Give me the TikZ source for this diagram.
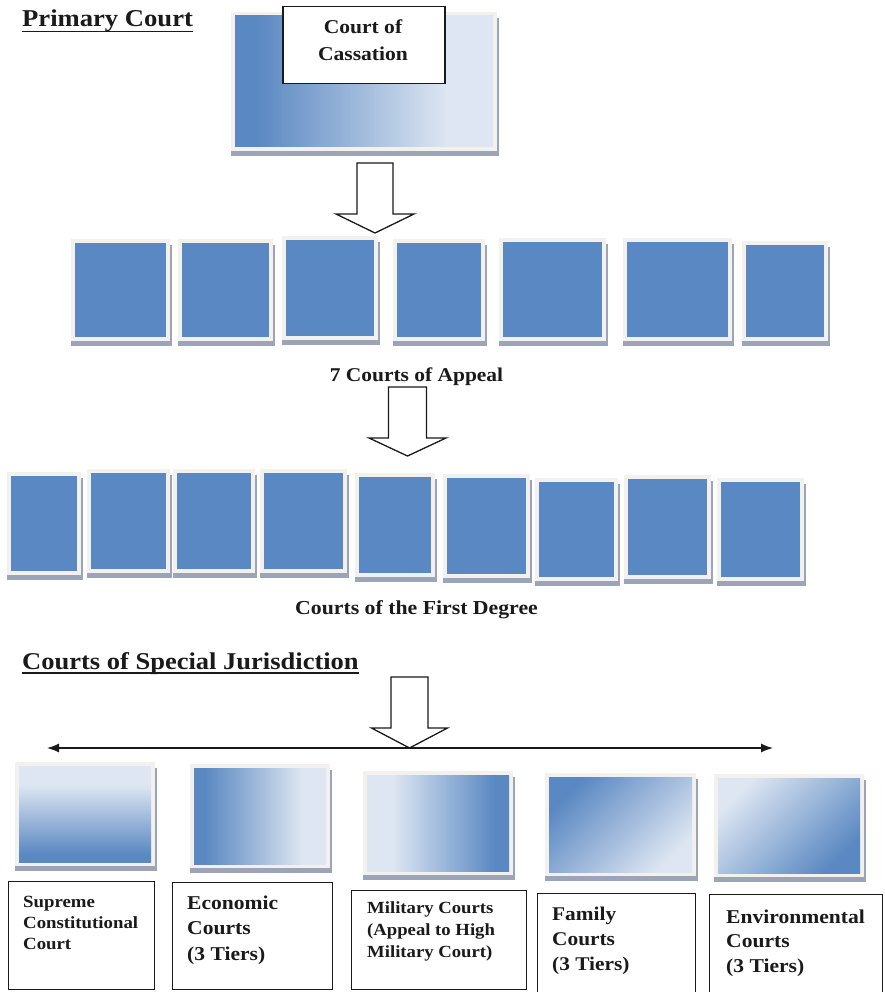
\documentclass[tikz,border=0pt]{standalone}
\usepackage{fontspec}
\setmainfont{Liberation Serif}[FakeStretch=1.1]
\usetikzlibrary{arrows.meta}
\definecolor{bdark}{HTML}{5A88C2}
\definecolor{blight}{HTML}{DDE6F2}
\definecolor{framec}{HTML}{F3F1ED}
\definecolor{shadowc}{HTML}{9CA5B8}
\definecolor{inkc}{HTML}{1A1A1A}
\pgfdeclarehorizontalshading{shLR}{100bp}{color(0bp)=(bdark); color(29bp)=(bdark); color(48bp)=(bdark!50!blight); color(66bp)=(blight); color(100bp)=(blight)}
\pgfdeclarehorizontalshading{shRL}{100bp}{color(0bp)=(blight); color(34bp)=(blight); color(70bp)=(bdark); color(100bp)=(bdark)}
\pgfdeclareverticalshading{shTB}{100bp}{color(0bp)=(bdark); color(29bp)=(bdark); color(65bp)=(blight); color(100bp)=(blight)}
\newcommand\pframe[4]{%
  \fill[shadowc] ({#1-4},{#2+2}) rectangle ({#3+6},{#4+9});
  \fill[framec] ({#1-4},{#2-4}) rectangle ({#3+4},{#4+4});}
\newcommand\blockarrow[6]{% cx, top, neck, tip, halfshaft, halfhead
  \draw[barrow] ({#1-#5},#2) -- ({#1+#5},#2) -- ({#1+#5},#3) -- ({#1+#6},#3) -- (#1,#4) -- ({#1-#6},#3) -- ({#1-#5},#3) -- cycle;}
\begin{document}
\begin{tikzpicture}[x=1pt,y=-1pt,
  txt/.style={font=\bfseries, inner sep=0pt, text=inkc},
  lblbox/.style={draw=inkc, line width=1.4pt, fill=white, inner sep=0pt, anchor=north west},
  barrow/.style={draw=inkc, line width=1.3pt, fill=white, line join=miter},
  hline/.style={draw=inkc, line width=1.3pt, {Latex[length=12pt,width=9pt]}-{Latex[length=12pt,width=9pt]}}]
\fill[white] (0,0) rectangle (884,992);
\useasboundingbox (0,0) rectangle (884,992);

% ---------- Primary Court ----------
\node[txt, anchor=base west] (pc) at (22,27) {\fontsize{24.2}{28}\selectfont Primary Court};
\draw[inkc, line width=1.5pt] ([yshift=-4.5pt]pc.base west) -- ([yshift=-4.5pt]pc.base east);

% Court of Cassation
\pframe{235}{16}{493}{147}
\shade[shading=shLR] (235,16) rectangle (493,147);
\node[lblbox, line width=1.5pt, minimum width=162pt, minimum height=77pt] (cassbox) at (282,6) {};
\node[txt, anchor=base] (cass) at (363,34) {\fontsize{19.6}{27}\selectfont\begin{tabular}[t]{@{}c@{}}Court of\\Cassation\end{tabular}};

\blockarrow{375}{163}{214}{233}{18}{39}

% 7 courts of appeal
\foreach \a/\b/\c/\d in {75/243/166/337, 182/243/269/337, 286/240/374/336, 397/243/481/337, 503/242/602/337, 627/242/728/337, 746/245/824/337}{
  \pframe{\a}{\b}{\c}{\d}
  \fill[bdark] (\a,\b) rectangle (\c,\d);
}
\node[txt, anchor=base] (appeal) at (416.5,381) {\fontsize{19.5}{23}\selectfont 7 Courts of Appeal};

\blockarrow{407.5}{387}{438}{456}{19}{38.5}

% courts of the first degree
\foreach \a/\b/\c/\d in {11/476/77/571, 91/473/166/569, 177/473/251/569, 264/473/343/569, 359/477/431/573, 447/478/526/574, 539/482/614/577, 628/479/707/575, 721/482/800/577}{
  \pframe{\a}{\b}{\c}{\d}
  \fill[bdark] (\a,\b) rectangle (\c,\d);
}
\node[txt, anchor=base] (first) at (416.5,614) {\fontsize{19.8}{23}\selectfont Courts of the First Degree};

% ---------- Special jurisdiction ----------
\node[txt, anchor=base west] (sj) at (22,669) {\fontsize{24.1}{28}\selectfont Courts of Special Jurisdiction};
\draw[inkc, line width=1.5pt] ([yshift=-4pt]sj.base west) -- ([yshift=-4pt]sj.base east);

\blockarrow{409.5}{677}{728}{748}{18.5}{38}
\coordinate (hl) at (47,748);
\coordinate (hr) at (773,748);
\draw[hline] (hl) -- (hr);

% gradient boxes
\pframe{19}{766}{151}{862}
\shade[shading=shTB] (19,766) rectangle (151,862);
\pframe{194}{768}{326}{864}
\shade[shading=shLR] (194,768) rectangle (326,864);
\pframe{367}{775}{509}{871}
\shade[shading=shRL] (367,775) rectangle (509,871);
\pframe{549}{777}{692}{872}
\shade[top color=bdark, middle color=bdark!40!blight, bottom color=blight, shading angle=45] (549,777) rectangle (692,872);
\pframe{718}{778}{860}{873}
\shade[top color=blight, middle color=blight!85!bdark, bottom color=bdark, shading angle=45] (718,778) rectangle (860,873);

% label boxes
\node[lblbox, minimum width=146pt, minimum height=108pt] (bA) at (8,881) {};
\node[lblbox, minimum width=160pt, minimum height=107pt] (bB) at (172,882) {};
\node[lblbox, minimum width=175pt, minimum height=99pt] (bC) at (351,890) {};
\node[lblbox, minimum width=158pt, minimum height=102pt] (bD) at (537,893) {};
\node[lblbox, minimum width=173pt, minimum height=102pt] (bE) at (709,894) {};

\node[txt, anchor=base west] (tA) at (23,907) {\fontsize{17.1}{21}\selectfont\begin{tabular}[t]{@{}l@{}}Supreme\\Constitutional\\Court\end{tabular}};
\node[txt, anchor=base west] (tB) at (187,909) {\fontsize{19.6}{25.5}\selectfont\begin{tabular}[t]{@{}l@{}}Economic\\Courts\\(3 Tiers)\end{tabular}};
\node[txt, anchor=base west] (tC) at (367,913) {\fontsize{17}{22}\selectfont\begin{tabular}[t]{@{}l@{}}Military Courts\\(Appeal to High\\Military Court)\end{tabular}};
\node[txt, anchor=base west] (tD) at (552,920) {\fontsize{19.4}{25}\selectfont\begin{tabular}[t]{@{}l@{}}Family\\Courts\\(3 Tiers)\end{tabular}};
\node[txt, anchor=base west] (tE) at (726,923) {\fontsize{19.6}{24.5}\selectfont\begin{tabular}[t]{@{}l@{}}Environmental\\Courts\\(3 Tiers)\end{tabular}};
\end{tikzpicture}
\end{document}
